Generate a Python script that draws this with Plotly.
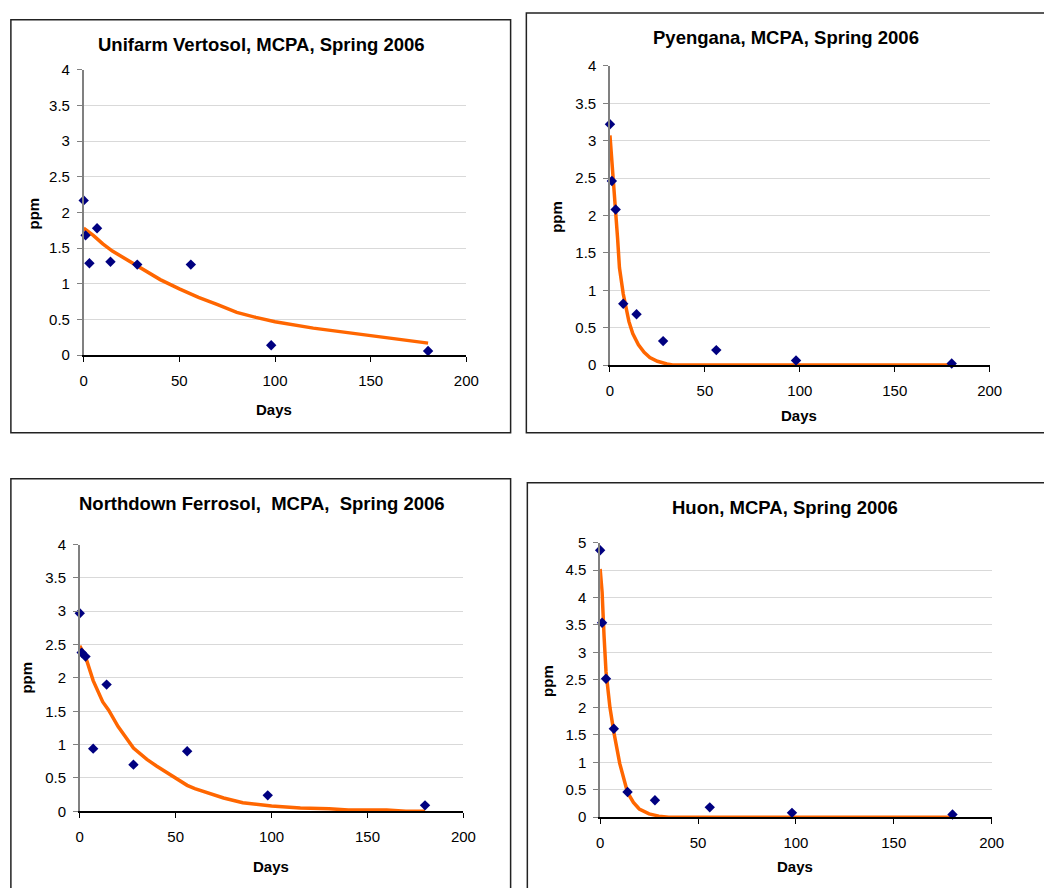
import plotly.graph_objects as go

W, H = 1044, 888

# ---------------- data ----------------
titles = ["Unifarm Vertosol, MCPA, Spring 2006",
          "Pyengana, MCPA, Spring 2006",
          "Northdown Ferrosol,  MCPA,  Spring 2006",
          "Huon, MCPA, Spring 2006"]

# measured points
uni_days = [0, 1, 3, 7, 14, 28, 56, 98, 180]
uni_ppm = [2.17, 1.68, 1.29, 1.78, 1.31, 1.27, 1.27, 0.14, 0.06]
pye_days = [0, 1, 3, 7, 14, 28, 56, 98, 180]
pye_ppm = [3.22, 2.46, 2.08, 0.82, 0.68, 0.32, 0.20, 0.06, 0.02]
nor_days = [0, 1, 3, 7, 14, 28, 56, 98, 180]
nor_ppm = [2.97, 2.38, 2.32, 0.94, 1.90, 0.70, 0.90, 0.24, 0.09]
huo_days = [0, 1, 3, 7, 14, 28, 56, 98, 180]
huo_ppm = [4.86, 3.54, 2.52, 1.61, 0.46, 0.31, 0.18, 0.08, 0.05]

# fitted curves
uni_fit_days = [0, 5, 10, 15, 20, 25, 30, 40, 50, 60, 70, 80, 90, 100, 120, 140, 160, 180]
uni_fit_ppm = [1.78, 1.68, 1.56, 1.46, 1.38, 1.30, 1.21, 1.06, 0.93, 0.81, 0.71, 0.60, 0.53, 0.47, 0.38, 0.31, 0.24, 0.17]
pye_fit_days = [0, 1, 2, 3, 4, 5, 7, 10, 12, 15, 18, 21, 25, 30, 33, 60, 100, 140, 180]
pye_fit_ppm = [3.07, 2.75, 2.42, 2.10, 1.70, 1.30, 0.95, 0.58, 0.42, 0.27, 0.17, 0.10, 0.05, 0.015, 0.0, 0.0, 0.0, 0.0, 0.0]
nor_fit_days = [0, 3, 7, 12, 15, 20, 28, 35, 40, 50, 56, 60, 75, 85, 100, 115, 130, 140, 160, 170, 180]
nor_fit_ppm = [2.48, 2.32, 1.96, 1.64, 1.52, 1.27, 0.95, 0.78, 0.68, 0.50, 0.39, 0.34, 0.20, 0.13, 0.08, 0.05, 0.04, 0.02, 0.02, 0.0, 0.0]
huo_fit_days = [0, 1, 2, 3, 5, 7, 10, 14, 17, 20, 25, 30, 35, 60, 100, 140, 180]
huo_fit_ppm = [4.52, 4.10, 3.30, 2.65, 2.00, 1.55, 0.98, 0.45, 0.27, 0.15, 0.06, 0.02, 0.0, 0.0, 0.0, 0.0, 0.0]

y_max = [4, 4, 4, 5]
x_ticks = [0, 50, 100, 150, 200]
y_ticks_4 = [0, 0.5, 1, 1.5, 2, 2.5, 3, 3.5, 4]
y_ticks_5 = [0, 0.5, 1, 1.5, 2, 2.5, 3, 3.5, 4, 4.5, 5]

# ---------------- layout geometry (pixels) ----------------
plots = [  # x0, x1, ytop, ybottom
    (81, 470, 62, 353),
    (616, 1002, 58, 363),
    (77, 467, 546, 818),
    (606, 1004, 544, 824),
]
boxes = [(7, 11, 515, 432), (531, 4, 1070, 432), (7, 479, 515, 910), (532, 483, 1070, 910)]
title_pos = [(262, 36), (795, 29), (262, 504), (794, 508)]
days_pos = [(274, 408), (808, 414), (271, 874), (804, 874)]
ppm_pos = [(30, 209), (562, 212), (23, 682), (553, 685)]

def px(x):
    return x / W

def py(y):
    return 1 - y / H

NAVY = "#000080"
ORANGE = "#FF6600"
FONT = "Liberation Sans, Arial, sans-serif"

fig = go.Figure()

series = [(uni_days, uni_ppm, uni_fit_days, uni_fit_ppm),
          (pye_days, pye_ppm, pye_fit_days, pye_fit_ppm),
          (nor_days, nor_ppm, nor_fit_days, nor_fit_ppm),
          (huo_days, huo_ppm, huo_fit_days, huo_fit_ppm)]

for i, (d, p, fd, fp) in enumerate(series):
    sfx = "" if i == 0 else str(i + 1)
    fig.add_trace(go.Scatter(x=fd, y=fp, mode="lines", line=dict(color=ORANGE, width=3.5),
                             xaxis="x" + sfx, yaxis="y" + sfx, showlegend=False, hoverinfo="skip"))
    fig.add_trace(go.Scatter(x=d, y=p, mode="markers",
                             marker=dict(symbol="diamond", size=8, color=NAVY),
                             xaxis="x" + sfx, yaxis="y" + sfx, showlegend=False, cliponaxis=False))

layout = dict(width=W, height=H, margin=dict(l=0, r=0, t=0, b=0),
              paper_bgcolor="white", plot_bgcolor="white", showlegend=False,
              font=dict(family=FONT, size=15, color="black"))

for i in range(4):
    x0, x1, yt, yb = plots[i]
    sfx = "" if i == 0 else str(i + 1)
    yt_vals = y_ticks_5 if y_max[i] == 5 else y_ticks_4
    layout["xaxis" + sfx] = dict(domain=[px(x0), px(x1)], range=[0, 200], tickvals=x_ticks,
                                 ticks="outside", ticklen=5, tickcolor="black", showline=True,
                                 linecolor="black", linewidth=1.5, showgrid=False, zeroline=False,
                                 anchor="y" + sfx, tickfont=dict(size=15), ticklabelstandoff=6,
                                 fixedrange=True)
    layout["yaxis" + sfx] = dict(domain=[py(yb), py(yt)], range=[0, y_max[i]], tickvals=yt_vals,
                                 ticktext=[("%g" % v) for v in yt_vals],
                                 ticks="outside", ticklen=5, tickcolor="#808080", showline=True,
                                 linecolor="#808080", linewidth=1.5, showgrid=True,
                                 gridcolor="#D9D9D9", gridwidth=1, zeroline=False,
                                 anchor="x" + sfx, tickfont=dict(size=15), ticklabelstandoff=4,
                                 fixedrange=True)

shapes = []
for (bx0, by0, bx1, by1) in boxes:
    shapes.append(dict(type="rect", xref="paper", yref="paper",
                       x0=px(bx0), x1=px(bx1), y0=py(by1), y1=py(by0),
                       line=dict(color="#222222", width=1.5), fillcolor="rgba(0,0,0,0)"))
layout["shapes"] = shapes

ann = []
for i in range(4):
    tx, ty = title_pos[i]
    ann.append(dict(text="<b>%s</b>" % titles[i], x=px(tx), y=py(ty), xref="paper", yref="paper",
                    xanchor="center", yanchor="middle", showarrow=False,
                    font=dict(size=18.5, family=FONT, color="black")))
    dx, dy = days_pos[i]
    ann.append(dict(text="<b>Days</b>", x=px(dx), y=py(dy), xref="paper", yref="paper",
                    xanchor="center", yanchor="middle", showarrow=False,
                    font=dict(size=15, family=FONT, color="black")))
    ppx, ppy = ppm_pos[i]
    ann.append(dict(text="<b>ppm</b>", x=px(ppx), y=py(ppy), xref="paper", yref="paper",
                    xanchor="center", yanchor="middle", showarrow=False, textangle=-90,
                    font=dict(size=15, family=FONT, color="black")))
layout["annotations"] = ann

fig.update_layout(**layout)
fig.write_html("out.html")
